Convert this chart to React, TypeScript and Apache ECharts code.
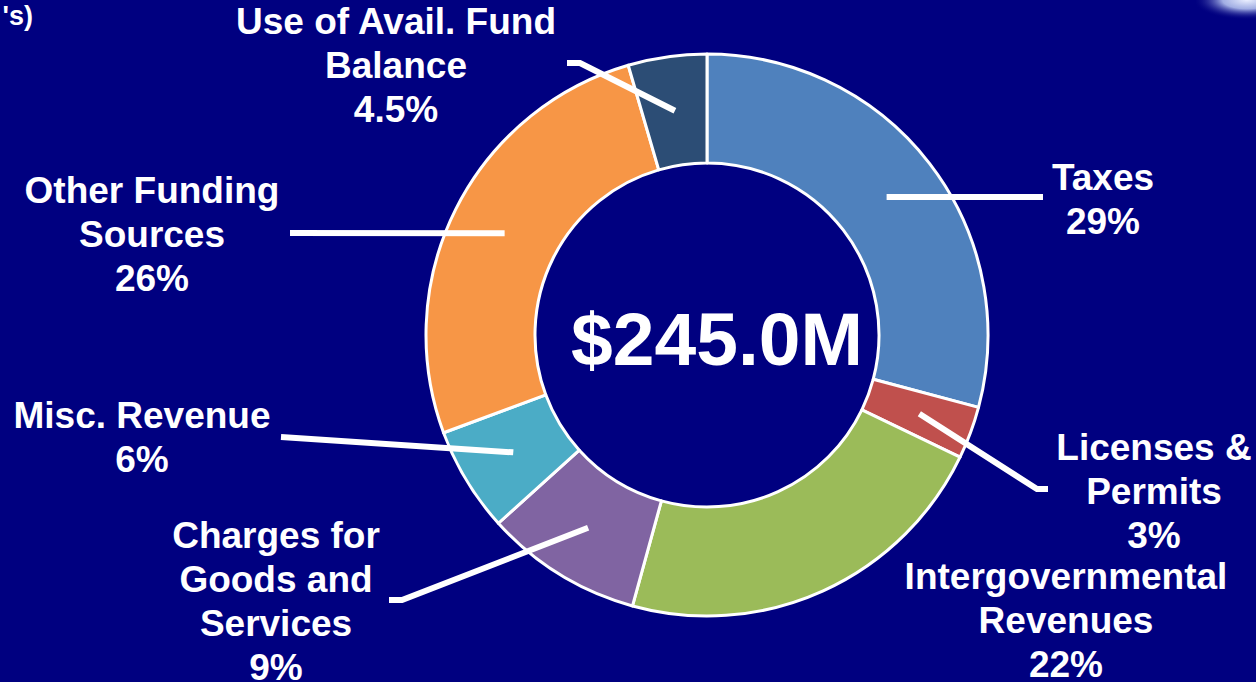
import React, { useEffect, useRef } from 'react';
import * as echarts from 'echarts';

// ---- Data ----
const categories = [
  'Taxes',
  'Licenses &\nPermits',
  'Intergovernmental\nRevenues',
  'Charges for\nGoods and\nServices',
  'Misc. Revenue',
  'Other Funding\nSources',
  'Use of Avail. Fund\nBalance',
];
const percentValues = [29, 3, 22, 9, 6, 26, 4.5];
const sliceColors = ['#4F81BD', '#C0504D', '#9BBB59', '#8064A2', '#4BACC6', '#F79646', '#2C4D75'];
const centerTotalLabel = '$245.0M';
const cornerText = "'s)";

// ---- Layout ----
const W = 1256;
const H = 682;
const CX = 707;
const CY = 335;
const R_IN = 172;
const R_OUT = 281;
const FONT = '"Liberation Sans", Arial, Helvetica, sans-serif';

// label block centres
const LABEL_POS: number[][] = [
  [1103, 199],
  [1154, 491],
  [1066, 620],
  [276, 601],
  [142, 437],
  [152, 234],
  [396, 65],
];
// leader line points after the start point (start is computed from the slice angle)
const LINE_TAIL: (number[][] | null)[] = [
  [[1043, 197]],
  [[1037, 489], [1048, 489]],
  null,
  [[402, 600], [389, 600]],
  [[281, 437]],
  [[290, 233]],
  [[580, 63], [567, 63]],
];

function sliceMidPoint(i: number): number[] {
  const total = percentValues.reduce((a, b) => a + b, 0);
  let before = 0;
  for (let k = 0; k < i; k++) before += percentValues[k];
  const frac = (before + percentValues[i] / 2) / total;
  const a = frac * Math.PI * 2;
  const r = (R_IN + R_OUT) / 2;
  return [CX + r * Math.sin(a), CY - r * Math.cos(a)];
}

export default function App() {
  const ref = useRef<HTMLDivElement>(null);

  useEffect(() => {
    if (!ref.current) return;
    const chart = echarts.init(ref.current, null, { renderer: 'svg' });
    const data = categories.map((name, i) => ({
      name,
      value: percentValues[i],
      itemStyle: { color: sliceColors[i] },
    }));

    const leaderLines: any[] = [];
    LINE_TAIL.forEach((tail, i) => {
      if (!tail) return;
      leaderLines.push({
        type: 'polyline',
        z: 10,
        silent: true,
        shape: { points: [sliceMidPoint(i), ...tail] },
        style: { stroke: '#ffffff', lineWidth: 6, fill: null, lineJoin: 'miter' },
      });
    });

    chart.setOption({
      animation: false,
      backgroundColor: '#000080',
      series: [
        {
          type: 'pie',
          center: [CX, CY],
          radius: [R_IN, R_OUT],
          startAngle: 90,
          clockwise: true,
          silent: true,
          avoidLabelOverlap: false,
          itemStyle: { borderColor: '#ffffff', borderWidth: 3 },
          label: {
            show: true,
            position: 'outside',
            color: '#ffffff',
            fontFamily: FONT,
            fontWeight: 'bold',
            fontSize: 37,
            lineHeight: 44,
            align: 'center',
            formatter: (p: any) => `${p.name}\n${p.value}%`,
          },
          labelLine: { show: false },
          labelLayout: (p: any) => {
            const i = p.dataIndex;
            return {
              x: LABEL_POS[i][0],
              y: LABEL_POS[i][1],
              align: 'center',
              verticalAlign: 'middle',
            };
          },
          emphasis: { disabled: true },
          data,
        },
      ],
      graphic: [
        ...leaderLines,
        {
          type: 'text',
          x: CX + 10,
          y: CY + 4,
          z: 10,
          silent: true,
          style: {
            text: centerTotalLabel,
            fill: '#ffffff',
            fontFamily: FONT,
            fontWeight: 'bold',
            fontSize: 75,
            align: 'center',
            verticalAlign: 'middle',
          },
        },
        {
          type: 'text',
          x: 33,
          y: 16,
          z: 10,
          silent: true,
          style: {
            text: cornerText,
            fill: '#ffffff',
            fontFamily: FONT,
            fontWeight: 'bold',
            fontSize: 27,
            align: 'right',
            verticalAlign: 'middle',
          },
        },
        {
          type: 'rect',
          z: 10,
          silent: true,
          shape: { x: 1196, y: 0, width: 60, height: 22 },
          style: {
            fill: {
              type: 'radial',
              x: 0.85,
              y: 0,
              r: 0.9,
              colorStops: [
                { offset: 0, color: 'rgba(235,240,255,1)' },
                { offset: 0.45, color: 'rgba(190,205,245,0.85)' },
                { offset: 1, color: 'rgba(0,0,128,0)' },
              ],
            },
          },
        },
      ],
    });
    return () => chart.dispose();
  }, []);

  return (
    <div
      ref={ref}
      style={{ position: 'fixed', left: 0, top: 0, width: W, height: H }}
    />
  );
}
